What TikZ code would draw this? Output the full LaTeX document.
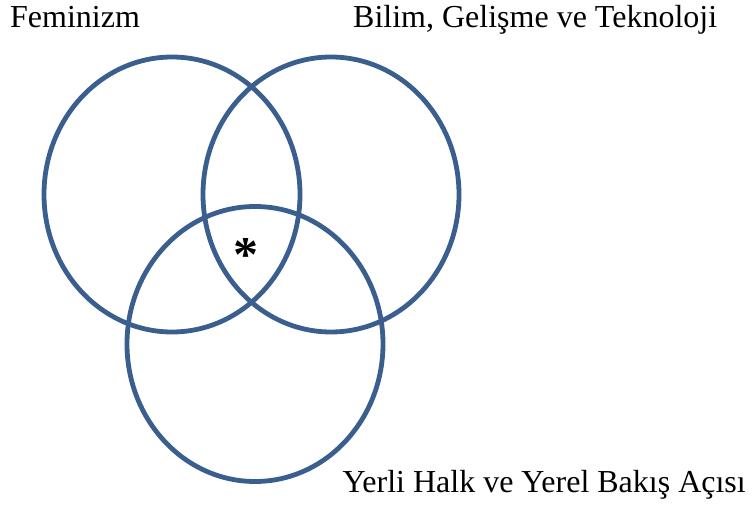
\documentclass[tikz,border=0pt]{standalone}
\usepackage{fontspec}
\setmainfont{Liberation Serif}
\usetikzlibrary{shapes.geometric}
\definecolor{vennblue}{HTML}{3A5F8F}
\begin{document}
\begin{tikzpicture}[x=1pt,y=-1pt,
  venn/.style={ellipse,draw=vennblue,line width=4.8pt,inner sep=0pt,
    minimum width=256pt,minimum height=275pt},
  lbl/.style={inner sep=0pt,font=\fontsize{32}{38}\selectfont}]
\useasboundingbox (0,0) rectangle (755,505);
\node[venn] (fem) at (172,194.5) {};
\node[venn] (bil) at (331,194.5) {};
\node[venn] (yer) at (255,344) {};
\node[lbl,anchor=base west] (tfem) at (10,28) {Feminizm};
\node[lbl,anchor=base west] (tbil) at (353,28) {Bilim, Gelişme ve Teknoloji};
\node[lbl,anchor=base east] (tyer) at (746,492) {Yerli Halk ve Yerel Bakış Açısı};
\node[inner sep=0pt,font=\fontsize{50}{56}\selectfont\bfseries,anchor=base] (star) at (246,271) {*};
\end{tikzpicture}
\end{document}
